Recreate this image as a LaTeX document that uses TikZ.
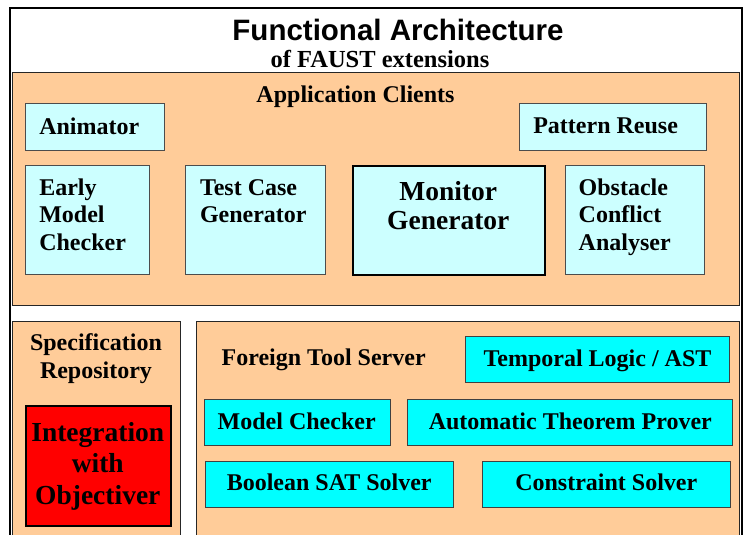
\documentclass[tikz,border=0pt]{standalone}
\usepackage{fontspec}
\setmainfont{Liberation Serif}
\newfontfamily\titlefont{Liberation Sans}
\definecolor{peach}{HTML}{FFCC99}
\definecolor{lcyan}{HTML}{CCFFFF}
\definecolor{cyanb}{HTML}{00FFFF}
\definecolor{redb}{HTML}{FF0000}
\begin{document}
\begin{tikzpicture}[x=1pt,y=-1pt,
  every node/.style={inner sep=0pt, outer sep=0pt},
  panel/.style={draw=black!85, fill=peach, line width=0.9pt, anchor=north west},
  lbox/.style={draw=black!70, fill=lcyan, line width=0.9pt, anchor=north west},
  cbox/.style={draw=black!75, fill=cyanb, line width=0.9pt, anchor=north west},
  bigbox/.style={draw=black, line width=1.8pt, anchor=north west},
  lbl/.style={font=\fontsize{24}{28}\selectfont\bfseries},
  biglbl/.style={font=\fontsize{27.5}{31}\selectfont\bfseries}]
\useasboundingbox (0,0) rectangle (744,535);
\clip (0,0) rectangle (744,535);
\fill[white] (0,0) rectangle (744,535);
% outer frame
\node[draw=black, line width=2.4pt, anchor=north west, minimum width=732pt, minimum height=560pt] (frame) at (10,8) {};
% panels
\node[panel, minimum width=727pt, minimum height=232.3pt] (app) at (12.3,72.7) {};
\node[panel, minimum width=168.4pt, minimum height=240pt] (spec) at (12.3,321.3) {};
\node[panel, minimum width=543pt, minimum height=240pt] (foreign) at (196,321.3) {};
% application client boxes
\node[lbox, minimum width=139pt, minimum height=46.7pt] (anim) at (25.7,103.3) {};
\node[lbox, minimum width=186.7pt, minimum height=46.7pt] (pattern) at (519.3,103.3) {};
\node[lbox, minimum width=123.6pt, minimum height=108.6pt] (early) at (25.7,165.7) {};
\node[lbox, minimum width=139.3pt, minimum height=108.6pt] (test) at (185.7,165.7) {};
\node[bigbox, fill=lcyan, minimum width=192pt, minimum height=109.6pt] (monitor) at (352.7,165.7) {};
\node[lbox, minimum width=139.3pt, minimum height=108.6pt] (obstacle) at (565,165.7) {};
% repository
\node[bigbox, fill=redb, minimum width=144.7pt, minimum height=120pt] (integ) at (26,406) {};
% foreign tools
\node[cbox, minimum width=263.7pt, minimum height=46pt] (temporal) at (465.3,336.7) {};
\node[cbox, minimum width=185.7pt, minimum height=45.7pt] (modelc) at (204.3,399.3) {};
\node[cbox, minimum width=325.4pt, minimum height=45.7pt] (atp) at (407.3,399.3) {};
\node[cbox, minimum width=248pt, minimum height=45.8pt] (bsat) at (205.3,461.5) {};
\node[cbox, minimum width=248.5pt, minimum height=46pt] (constr) at (482,461.3) {};
% texts
\node[anchor=base, font=\titlefont\bfseries\fontsize{29.5}{34}\selectfont] (title) at (398,40.5) {Functional Architecture};
\node[anchor=base, font=\fontsize{24.5}{28}\selectfont\bfseries] (subtitle) at (380,67) {of FAUST extensions};
\node[lbl, anchor=base] (appt) at (355.5,102) {Application Clients};
\node[lbl, anchor=base west] (animt) at (39.3,134) {Animator};
\node[lbl, anchor=base west] (patternt) at (533.3,133.3) {Pattern Reuse};
\node[lbl, anchor=base west] (earlyt) at (39.3,195) {Early};
\node[lbl, anchor=base west] (earlyt2) at (39.3,222.8) {Model};
\node[lbl, anchor=base west] (earlyt3) at (39.3,250.5) {Checker};
\node[lbl, anchor=base west] (testt) at (200,195) {Test Case};
\node[lbl, anchor=base west] (testt2) at (200,222.5) {Generator};
\node[biglbl, anchor=base] (mont) at (448.3,200.3) {Monitor};
\node[biglbl, anchor=base] (mont2) at (448.3,229.3) {Generator};
\node[lbl, anchor=base west] (obst) at (578.7,195) {Obstacle};
\node[lbl, anchor=base west] (obst2) at (578.7,222.7) {Conflict};
\node[lbl, anchor=base west] (obst3) at (578.7,250) {Analyser};
\node[lbl, anchor=base] (spect) at (96,350) {Specification};
\node[lbl, anchor=base] (spect2) at (96,378.3) {Repository};
\node[biglbl, anchor=base] (integt) at (97.8,441.5) {Integration};
\node[biglbl, anchor=base] (integt2) at (97.8,472.5) {with};
\node[biglbl, anchor=base] (integt3) at (97.8,504) {Objectiver};
\node[lbl, anchor=base west] (foreignt) at (221.7,365.5) {Foreign Tool Server};
\node[lbl, anchor=base] (temporalt) at (597.5,366.5) {Temporal Logic / AST};
\node[lbl, anchor=base] (modelct) at (296.7,429) {Model Checker};
\node[lbl, anchor=base] (atpt) at (570.3,429) {Automatic Theorem Prover};
\node[lbl, anchor=base] (bsatt) at (329.2,490.8) {Boolean SAT Solver};
\node[lbl, anchor=base] (constrt) at (606.3,490.8) {Constraint Solver};
\end{tikzpicture}
\end{document}
